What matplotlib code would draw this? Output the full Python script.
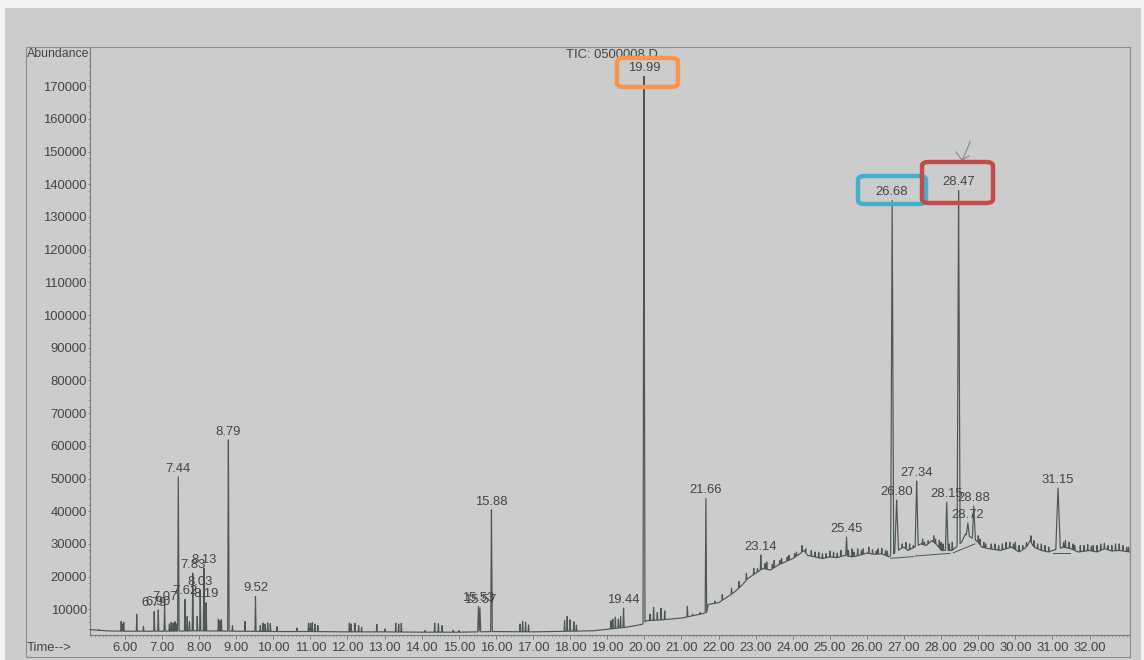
import numpy as np
import matplotlib
matplotlib.use("Agg")
import matplotlib.pyplot as plt
from matplotlib.patches import Rectangle, FancyBboxPatch
from matplotlib.ticker import MultipleLocator

plt.rcParams['font.family'] = ['Liberation Sans', 'DejaVu Sans']

# ---- chromatogram data (retention time in min, abundance) ----
base_t = [5.06, 5.5, 6.0, 7.0, 8.0, 9.0, 10.0, 11.0, 12.0, 13.0, 14.0, 15.0, 16.0,
          17.0, 18.0, 18.6, 19.0, 19.5, 19.95, 20.05, 20.5, 21.0, 21.5, 21.68, 21.72,
          22.0, 22.2, 22.4, 22.6, 22.8, 23.0, 23.2, 23.4, 23.6, 23.8, 24.0, 24.2, 24.3,
          24.4, 24.6, 24.8, 25.0, 25.2, 25.4, 25.6, 25.8, 26.0, 26.2, 26.4, 26.6, 26.9,
          27.0, 27.1, 27.2, 27.45, 27.6, 27.75, 27.9, 28.0, 28.3, 28.55, 28.65, 28.8,
          28.95, 29.1, 29.3, 29.6, 29.9, 30.1, 30.3, 30.4, 30.5, 30.7, 30.9, 31.0, 31.3,
          31.5, 31.7, 32.0, 32.2, 32.4, 32.6, 32.8, 33.1]
base_a = [3800, 3400, 3300, 3300, 3400, 3300, 3200, 3200, 3100, 3100, 3000, 3000, 3200,
          3100, 3300, 3400, 3900, 4500, 5400, 6500, 6800, 7300, 8500, 9000, 11500,
          12000, 13500, 15000, 17000, 19500, 21000, 22500, 22000, 23500, 24500, 25500, 27000, 28000,
          26500, 26000, 25500, 26000, 25800, 26500, 26000, 26500, 27200, 26800, 27000, 26000, 28500,
          29000, 28000, 28500, 30000, 29500, 31000, 29500, 28000, 28000, 30500, 33000, 32000,
          31000, 29000, 28500, 28000, 29000, 27500, 29000, 31000, 29000, 28000, 27500, 28000, 29000,
          28500, 27500, 28000, 27500, 28500, 27800, 28000, 27500]

# labelled peaks
peak_labels = ['6.79', '6.90', '7.07', '7.44', '7.62', '7.83', '8.03', '8.13', '8.19',
               '8.79', '9.52', '15.53', '15.57', '15.88', '19.44', '19.99', '21.66',
               '23.14', '25.45', '26.68', '26.80', '27.34', '28.15', '28.47', '28.72',
               '28.88', '31.15']
peak_t = [float(s) for s in peak_labels]
peak_a = [9300, 9800, 11300, 50500, 13000, 21100, 15900, 22600, 12000,
          61800, 13900, 10900, 10400, 40400, 10400, 173000, 44000,
          26600, 32100, 135000, 43400, 49200, 42800, 138000, 36400,
          41600, 47100]
peak_w = [0.015, 0.015, 0.015, 0.02, 0.015, 0.015, 0.015, 0.015, 0.015,
          0.02, 0.015, 0.02, 0.02, 0.02, 0.015, 0.025, 0.02,
          0.015, 0.02, 0.04, 0.05, 0.04, 0.035, 0.04, 0.04,
          0.04, 0.06]

# unlabelled minor peaks
minor_t = [5.3, 5.9, 5.93, 5.97, 6.32, 6.5, 7.2, 7.25, 7.3, 7.35, 7.38, 7.68, 7.74, 7.95,
           8.52, 8.56, 8.6, 8.9, 9.24, 9.65, 9.72, 9.78, 9.85, 9.92, 10.1, 10.64, 10.95,
           11.0, 11.05, 11.12, 11.2, 12.05, 12.1, 12.2, 12.3, 12.38, 12.79, 13.01, 13.3,
           13.38, 13.45, 14.09, 14.35, 14.45, 14.55, 14.85, 15.0, 16.65, 16.72, 16.8, 16.88,
           17.85, 17.92, 18.0, 18.1, 18.17, 19.1, 19.15, 19.22, 19.3, 19.36, 20.15, 20.25,
           20.35, 20.45, 20.55, 21.16, 21.3, 21.5, 21.9, 22.1, 22.35, 22.55, 22.75, 22.95,
           23.3, 23.5, 23.7, 23.9, 24.1, 24.25, 24.5, 24.7, 24.9, 25.1, 25.3, 25.6, 25.75,
           25.9, 26.05, 26.3, 26.5, 27.05, 27.5, 27.65, 27.8, 27.95, 28.05, 28.3, 29.05,
           29.2, 29.45, 29.75, 30.0, 30.2, 30.42, 30.6, 30.8, 31.35, 31.45, 31.6, 31.85,
           32.1, 32.3, 32.5, 32.7, 32.9, 33.0,
           23.05, 23.25, 23.45, 23.65, 23.85, 24.05, 24.35, 24.6, 24.8, 25.0, 25.2, 25.5,
           25.65, 25.85, 26.15, 26.25, 26.4, 26.55, 26.95, 27.15, 27.25, 27.55, 27.7, 27.85,
           28.0, 28.22, 29.0, 29.15, 29.35, 29.55, 29.65, 29.85, 29.95, 30.1, 30.3, 30.5,
           30.7, 30.9, 31.3, 31.55, 31.75, 31.95, 32.05, 32.2, 32.4, 32.6, 32.8, 33.05]
minor_a = [3800, 6300, 5500, 6000, 8500, 4800, 5500, 6000, 5800, 6200, 5600, 7800, 6200, 7800,
           7000, 6500, 6800, 5000, 6300, 5000, 5800, 5500, 5900, 5600, 4700, 4300, 5800,
           5600, 5900, 5500, 5000, 5800, 5500, 5700, 5000, 4500, 5400, 4000, 5800,
           5500, 5700, 3500, 5800, 5600, 5000, 3600, 3500, 5500, 6300, 6000, 5200,
           6500, 7800, 6800, 6200, 5200, 6500, 7000, 7600, 7000, 7800, 8500, 10600,
           9000, 10300, 9500, 10900, 8500, 9000, 12500, 14500, 16500, 18500, 21000, 22500,
           24500, 25000, 25500, 26500, 27500, 29500, 28000, 27500, 27000, 27500, 28000, 28500, 28500,
           28500, 29000, 28500, 28000, 30500, 31500, 31000, 32500, 31000, 30000, 30500, 31500,
           30000, 30000, 30500, 30500, 29500, 32500, 30000, 29500, 31000, 30500, 29500, 29500,
           29500, 30000, 29500, 30000, 29500, 29000,
           22500, 24000, 23800, 25000, 26000, 27000, 28500, 27500, 27000, 27800, 27200, 28000,
           27500, 28000, 28200, 27800, 28600, 27800, 30000, 30000, 29500, 30500, 30000, 31500,
           30500, 30000, 32500, 30500, 30000, 29500, 30000, 30500, 30000, 29500, 30500, 31000,
           30000, 29000, 30500, 30000, 29500, 29800, 29300, 29500, 30200, 29500, 30000, 29000]

# integration baselines drawn under the late peaks
seg_t0 = [26.64, 27.30, 28.33, 31.02]
seg_a0 = [25600, 26300, 27300, 27100]
seg_t1 = [27.25, 28.24, 28.91, 31.47]
seg_a1 = [26100, 27100, 30000, 27100]

y_ticks = list(range(10000, 170001, 10000))
x_ticks = list(range(6, 33))

# ---- build the trace ----
XMIN, XMAX = 5.06, 33.09
YMIN, YMAX = 2140, 181960
t = np.union1d(np.linspace(XMIN, XMAX, 9000), np.concatenate([peak_t, minor_t]))
t = t[(t >= XMIN) & (t <= XMAX)]
signal = np.interp(t, base_t, base_a)


def add_peaks(sig, times, apexes, widths):
    out = sig.copy()
    for pt, pa, pw in zip(times, apexes, widths):
        b = np.interp(pt, base_t, base_a)
        amp = max(pa - b, 0)
        tri = np.clip(1 - np.abs(t - pt) / pw, 0, None)
        out = out + amp * tri
    return out


trace = add_peaks(signal, minor_t, minor_a, [0.012] * len(minor_t))
trace = add_peaks(trace, peak_t, peak_a, peak_w)

# ---- figure ----
W, H = 1144, 660
fig = plt.figure(figsize=(W / 100, H / 100), dpi=100, facecolor='#f3f3f3')


def fx(px):
    return px / W


def fy(py):
    return 1 - py / H


fig.add_artist(Rectangle((fx(5), fy(660)), fx(1141) - fx(5), fy(8) - fy(660),
                         transform=fig.transFigure, facecolor='#cccccc',
                         edgecolor='none', zorder=0))
fig.add_artist(Rectangle((fx(26), fy(657)), fx(1130) - fx(26), fy(47) - fy(657),
                         transform=fig.transFigure, facecolor='none',
                         edgecolor='#8c8c8c', lw=0.8, zorder=1))

ax = fig.add_axes([fx(90), fy(635), fx(1130) - fx(90), fy(47) - fy(635)])
ax.patch.set_alpha(0)
ax.set_xlim(XMIN, XMAX)
ax.set_ylim(YMIN, YMAX)

txt_col = '#444444'
line_col = '#4c5753'
FS = 9.4

ax.plot(t, trace, color=line_col, lw=0.85, zorder=3)
for a0, b0, a1, b1 in zip(seg_t0, seg_a0, seg_t1, seg_a1):
    ax.plot([a0, a1], [b0, b1], color=line_col, lw=0.7, zorder=3)

for lab, pt, pa in zip(peak_labels, peak_t, peak_a):
    ax.text(pt, pa + 700, lab, ha='center', va='bottom', fontsize=FS,
            color=txt_col, zorder=4)

ax.spines['top'].set_visible(False)
for s in ['left', 'bottom', 'right']:
    ax.spines[s].set_color('#7a7a7a')
    ax.spines[s].set_linewidth(0.8)

ax.set_yticks(y_ticks)
ax.set_yticklabels([str(v) for v in y_ticks])
ax.set_xticks(x_ticks)
ax.set_xticklabels([f"{v:.2f}" for v in x_ticks])
ax.xaxis.set_minor_locator(MultipleLocator(0.1))
ax.yaxis.set_minor_locator(MultipleLocator(2000))
ax.tick_params(axis='x', which='major', labelsize=FS, colors='#7a7a7a',
               labelcolor=txt_col, length=3, width=0.7, pad=2)
ax.tick_params(axis='y', which='major', labelsize=FS, colors='#7a7a7a',
               labelcolor=txt_col, length=1.5, width=0.7, pad=0.8)
ax.tick_params(axis='both', which='minor', colors='#8a8a8a', length=1.5, width=0.5)

fig.text(fx(27), fy(54), 'Abundance', ha='left', va='center', fontsize=8.9, color=txt_col)
fig.text(fx(27), fy(648), 'Time-->', ha='left', va='center', fontsize=FS, color=txt_col)
fig.text(fx(566), fy(55), 'TIC: 0500008.D', ha='left', va='center', fontsize=FS,
         color=txt_col)

# highlight boxes around the main peaks
boxes = [((617, 58, 678, 87), '#f7964a'),
         ((858, 176, 926, 204), '#46afcd'),
         ((922, 162, 993, 203), '#c34b4b')]
for (x0, y0, x1, y1), col in boxes:
    fig.add_artist(FancyBboxPatch((fx(x0), fy(y1)), fx(x1) - fx(x0), fy(y0) - fy(y1),
                                  boxstyle='round,pad=0,rounding_size=0.006',
                                  transform=fig.transFigure, facecolor='none',
                                  edgecolor=col, lw=3.2, zorder=10))

# pencil mark above 28.47
fig.add_artist(plt.Line2D([fx(970), fx(963)], [fy(142), fy(159)],
                          transform=fig.transFigure, color='#8a8a8a', lw=0.8, zorder=9))
fig.add_artist(plt.Line2D([fx(956), fx(962), fx(969)], [fy(152), fy(160), fy(156)],
                          transform=fig.transFigure, color='#8a8a8a', lw=0.8, zorder=9))

fig.savefig('out.png', dpi=100, facecolor=fig.get_facecolor())
